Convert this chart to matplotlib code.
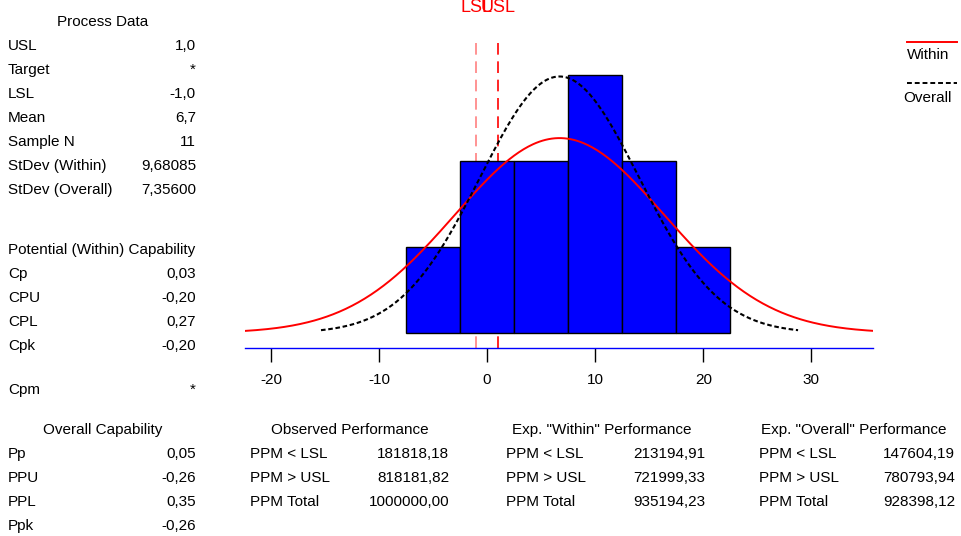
import numpy as np
import matplotlib
matplotlib.use("Agg")
import matplotlib.pyplot as plt
from matplotlib.lines import Line2D

plt.rcParams['font.family'] = ['Liberation Sans', 'DejaVu Sans']

# ---- data ----
bin_centers = [-5, 0, 5, 10, 15, 20]
bin_counts = [1, 2, 2, 3, 2, 1]
bin_width = 5
LSL, USL = -1.0, 1.0
mean = 6.7
n_sample = 11
sd_within = 9.68085
sd_overall = 7.35600
xticks = [-20, -10, 0, 10, 20, 30]

process_labels = ["USL", "Target", "LSL", "Mean", "Sample N", "StDev (Within)", "StDev (Overall)"]
process_values = ["1,0", "*", "-1,0", "6,7", "11", "9,68085", "7,35600"]
within_labels = ["Cp", "CPU", "CPL", "Cpk"]
within_values = ["0,03", "-0,20", "0,27", "-0,20"]
cpm_value = "*"
overall_labels = ["Pp", "PPU", "PPL", "Ppk"]
overall_values = ["0,05", "-0,26", "0,35", "-0,26"]
ppm_labels = ["PPM < LSL", "PPM > USL", "PPM Total"]
observed_values = ["181818,18", "818181,82", "1000000,00"]
exp_within_values = ["213194,91", "721999,33", "935194,23"]
exp_overall_values = ["147604,19", "780793,94", "928398,12"]

W, H = 961, 536
fig = plt.figure(figsize=(W / 100, H / 100), dpi=100)

def px(x, y):
    return x / W, 1 - y / H

FS = 11

# ---- main axes ----
ax_l, ax_r, ax_t, ax_b = 245, 873, 40, 348
ax = fig.add_axes([ax_l / W, 1 - ax_b / H, (ax_r - ax_l) / W, (ax_b - ax_t) / H])
ax.bar(bin_centers, bin_counts, width=bin_width, color='#0000ff', edgecolor='black', linewidth=1.0, zorder=2)
ax.set_xlim(-22.4, 35.7)
ax.set_ylim(-0.174, 3.407)

def npdf(x, m, s):
    return np.exp(-0.5 * ((x - m) / s) ** 2) / (s * np.sqrt(2 * np.pi))

scale = n_sample * bin_width
xw = np.linspace(-22.4, 35.7, 400)
ax.plot(xw, scale * npdf(xw, mean, sd_within), color='#ff0000', lw=1.4, zorder=3)
xo = np.linspace(mean - 3 * sd_overall, mean + 3 * sd_overall, 400)
ax.plot(xo, scale * npdf(xo, mean, sd_overall), color='black', lw=1.5, ls=(0, (2.2, 1.3)), zorder=3)

ax.axvline(LSL, color='#ff8080', lw=1.2, ls=(0, (7, 4)), zorder=1)
ax.axvline(USL, color='#ff0000', lw=1.2, ls=(0, (7, 4)), zorder=1)

for s in ['top', 'right', 'left']:
    ax.spines[s].set_visible(False)
ax.spines['bottom'].set_color('#0000ff')
ax.spines['bottom'].set_linewidth(1.0)
ax.set_yticks([])
ax.set_xticks(xticks)
ax.set_xticklabels([str(t) for t in xticks])
ax.tick_params(axis='x', direction='out', length=10, width=1, color='black', pad=8, labelsize=FS)
ax.set_facecolor('none')

# LSL / USL labels
fig.text(*px(476, 8), "LSL", color='#ff0000', fontsize=13, ha='center', va='center')
fig.text(*px(498, 8), "USL", color='#ff0000', fontsize=13, ha='center', va='center')

# legend
fig.add_artist(Line2D([907 / W, 957 / W], [1 - 42 / H, 1 - 42 / H], color='#ff0000', lw=1.4))
fig.text(*px(907, 55), "Within", fontsize=FS, ha='left', va='center')
fig.add_artist(Line2D([907 / W, 957 / W], [1 - 83 / H, 1 - 83 / H], color='black', lw=1.4, ls=(0, (2.5, 1.5))))
fig.text(*px(903, 98), "Overall", fontsize=FS, ha='left', va='center')

def t(x, y, s, ha='left'):
    fig.text(*px(x, y), s, fontsize=FS, ha=ha, va='center')

# process data
t(103, 22, "Process Data", ha='center')
for i, (lab, val) in enumerate(zip(process_labels, process_values)):
    y = 46 + 24 * i
    t(8, y, lab)
    t(196, y, val, ha='right')

t(8, 250, "Potential (Within) Capability")
for i, (lab, val) in enumerate(zip(within_labels, within_values)):
    y = 274 + 24 * i
    t(8, y, lab)
    t(196, y, val, ha='right')
t(8, 390, "Cpm")
t(196, 390, cpm_value, ha='right')

t(103, 430, "Overall Capability", ha='center')
for i, (lab, val) in enumerate(zip(overall_labels, overall_values)):
    y = 454 + 24 * i
    t(8, y, lab)
    t(196, y, val, ha='right')

groups = [
    ("Observed Performance", 350, 250, 449, observed_values),
    ('Exp. "Within" Performance', 602, 506, 705, exp_within_values),
    ('Exp. "Overall" Performance', 854, 759, 955, exp_overall_values),
]
for title, cx, lx, rx, vals in groups:
    t(cx, 430, title, ha='center')
    for i, (lab, val) in enumerate(zip(ppm_labels, vals)):
        y = 454 + 24 * i
        t(lx, y, lab)
        t(rx, y, val, ha='right')

fig.savefig("out.png", dpi=100)
